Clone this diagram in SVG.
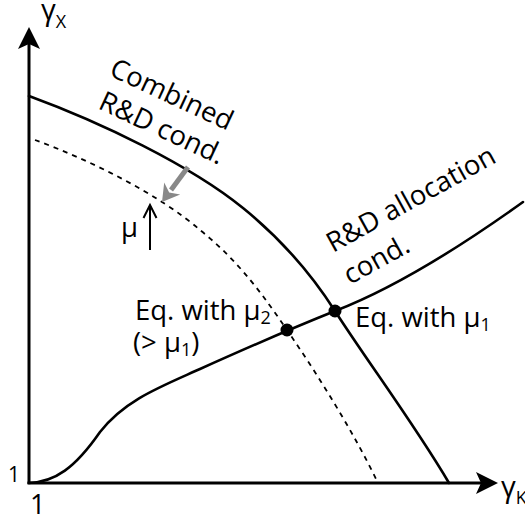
<svg xmlns="http://www.w3.org/2000/svg" width="525" height="521" viewBox="0 0 525 521">
<style>
  text { font-family: "Open Sans", "Noto Sans", "DejaVu Sans", sans-serif; fill: #000; }
  .lbl { font-size: 27.5px; }
  .sub { font-size: 18px; }
  .curve { fill: none; stroke: #000; stroke-width: 2.6; stroke-linecap: round; }
  .dash { fill: none; stroke: #000; stroke-width: 1.8; stroke-dasharray: 5 5; }
  .axis { fill: none; stroke: #000; stroke-width: 3; }
  .dot { fill: #000; }
</style>
<rect width="525" height="521" fill="#fff"/>
<g id="axes">
  <line class="axis" x1="29" y1="484" x2="29" y2="44"/>
  <line class="axis" x1="27.5" y1="483" x2="482" y2="483"/>
  <polygon points="29,27 40,49 29,44 18,49" fill="#000"/>
  <polygon points="498,483 476,472 481,483 476,494" fill="#000"/>
  <text x="41" y="20" style="font-size:29px">γ<tspan class="sub" dy="8">X</tspan></text>
  <text x="501" y="497" style="font-size:29px">γ<tspan class="sub" dy="7">K</tspan></text>
  <text x="8" y="482" style="font-size:21px">1</text>
  <text x="30" y="514" style="font-size:27px">1</text>
</g>
<g id="connectors">
  <path id="combined-curve" class="curve" d="M29,96 C100,122 190,165 243,208 C280,238 312,275 335,311 C365,358 415,425 449,483"/>
  <path id="combined-curve-shifted" class="dash" d="M35,140 C90,160 160,195 200,230 C240,262 265,298 287,330 C320,378 355,435 378,483"/>
  <path id="allocation-curve" class="curve" d="M29,483 C55,482 75,468 100,432 C125,400 160,387 200,369 C260,342 300,325 335,311 C400,286 470,240 523,202"/>
  <g id="shift-arrow">
    <line x1="188" y1="167" x2="171" y2="190" stroke="#888" stroke-width="5"/>
    <polygon points="162,202 164.2,182.4 169.2,192.4 180.2,194.4" fill="#888"/>
  </g>
  <g id="mu-arrow">
    <line x1="150" y1="250" x2="150" y2="207" stroke="#000" stroke-width="2"/>
    <polyline points="143.5,218 150,205 156.5,218" fill="none" stroke="#000" stroke-width="2"/>
  </g>
</g>
<g id="label-combined">
  <text class="lbl" transform="translate(108,75) rotate(25)">Combined</text>
  <text class="lbl" transform="translate(97,108) rotate(25)">R&amp;D cond.</text>
</g>
<g id="label-allocation">
  <text class="lbl" transform="translate(333,253) rotate(-29)">R&amp;D allocation</text>
  <text class="lbl" transform="translate(350,285) rotate(-29)">cond.</text>
</g>
<g id="mu-label">
  <text class="lbl" x="121" y="237">μ</text>
</g>
<g id="eq1">
  <circle class="dot" cx="335" cy="311" r="6.5"/>
  <text class="lbl" x="355" y="327">Eq. with μ<tspan class="sub" dy="4">1</tspan></text>
</g>
<g id="eq2">
  <circle class="dot" cx="287" cy="330" r="6.5"/>
  <text class="lbl" x="135" y="320">Eq. with μ<tspan class="sub" dy="4">2</tspan></text>
  <text class="lbl" x="133" y="352">(&gt; μ<tspan class="sub" dy="4">1</tspan><tspan dy="-4">)</tspan></text>
</g>
</svg>
